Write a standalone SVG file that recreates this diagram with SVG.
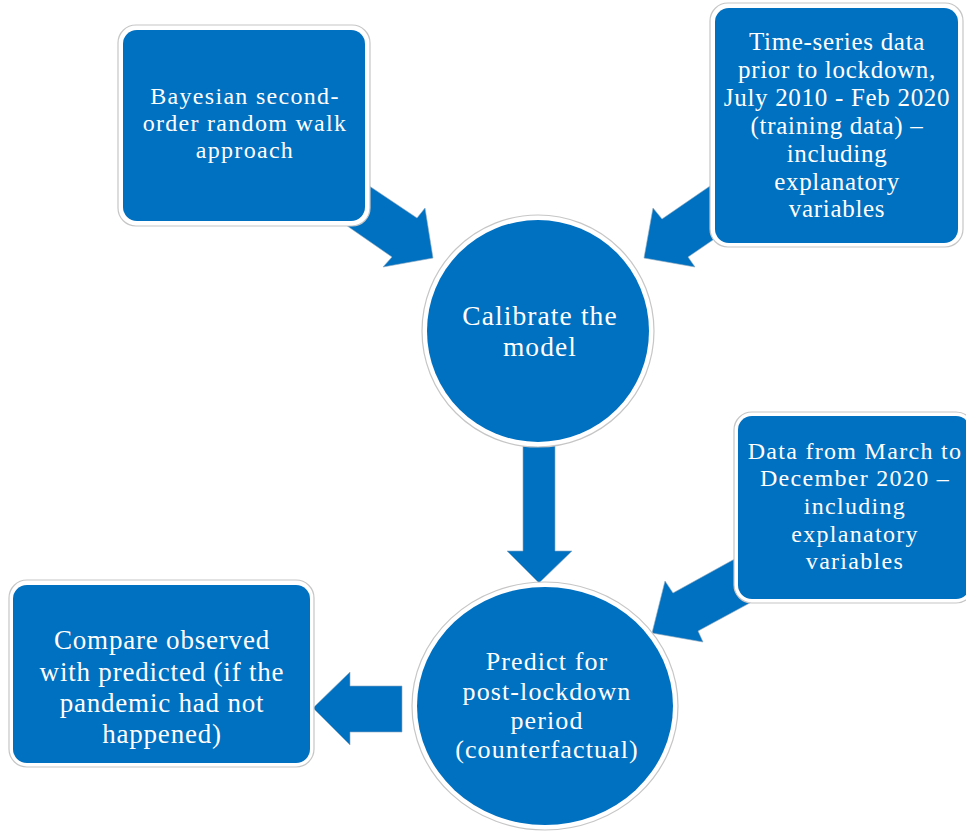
<svg xmlns="http://www.w3.org/2000/svg" width="966" height="832" viewBox="0 0 966 832">
  <style>
    .frame { fill: #ffffff; stroke: #c6c6c6; stroke-width: 1.2; }
    .fill { fill: #0070C0; }
    .arrow { fill: #0070C0; stroke: #8fa9c0; stroke-width: 0.6; stroke-linejoin: miter; }
    .lbl { font-family: "Liberation Serif", "DejaVu Serif", serif; fill: #ffffff; text-anchor: middle; }
    .bay { font-size: 24px; letter-spacing: 1.3px; }
    .ts { font-size: 25px; letter-spacing: 0.7px; }
    .cal { font-size: 27.5px; letter-spacing: 1.1px; }
    .dat { font-size: 24px; letter-spacing: 1.3px; }
    .pre { font-size: 26px; letter-spacing: 1.1px; }
    .cmp { font-size: 27px; letter-spacing: 0.8px; }
  </style>
  <rect width="966" height="832" fill="#ffffff"/>

  <g id="connectors">
    <polygon class="arrow" points="335,163 417,218 425,208 433,258 383,267 392,257 317,205"/>
    <polygon class="arrow" points="745,162 662,219 653,208 644,258 695,267 688,257 745,218"/>
    <polygon class="arrow" points="523,420 555,420 555,551 572,551 539,583 507,551 523,551"/>
    <polygon class="arrow" points="760,545 673,593 665,581 652,633 703,642 698,631 770,592"/>
    <polygon class="arrow" points="402,686 350,686 350,672 313,708 350,745 350,732 402,732"/>
  </g>

  <g id="node-bayesian">
    <rect class="frame" x="118" y="25" width="252" height="201" rx="18"/>
    <rect class="fill" x="123" y="30" width="242" height="191" rx="14"/>
    <text class="lbl bay" x="245" y="104">Bayesian second-</text>
    <text class="lbl bay" x="245" y="131">order random walk</text>
    <text class="lbl bay" x="245" y="158">approach</text>
  </g>

  <g id="node-timeseries">
    <rect class="frame" x="710" y="3" width="253" height="244" rx="18"/>
    <rect class="fill" x="715" y="8" width="243" height="235" rx="14"/>
    <text class="lbl ts" x="837" y="50">Time-series data</text>
    <text class="lbl ts" x="837" y="78">prior to lockdown,</text>
    <text class="lbl ts" x="837" y="106">July 2010 - Feb 2020</text>
    <text class="lbl ts" x="837" y="134">(training data) –</text>
    <text class="lbl ts" x="837" y="162">including</text>
    <text class="lbl ts" x="837" y="190">explanatory</text>
    <text class="lbl ts" x="837" y="217">variables</text>
  </g>

  <g id="node-calibrate">
    <circle class="frame" cx="538" cy="331" r="116"/>
    <circle class="fill" cx="538" cy="331" r="111"/>
    <text class="lbl cal" x="540" y="325">Calibrate the</text>
    <text class="lbl cal" x="540" y="356">model</text>
  </g>

  <g id="node-data">
    <rect class="frame" x="734" y="412" width="240" height="191" rx="18"/>
    <rect class="fill" x="738" y="416" width="232" height="183" rx="14"/>
    <text class="lbl dat" x="855" y="459">Data from March to</text>
    <text class="lbl dat" x="855" y="486">December 2020 –</text>
    <text class="lbl dat" x="855" y="514">including</text>
    <text class="lbl dat" x="855" y="542">explanatory</text>
    <text class="lbl dat" x="855" y="569">variables</text>
  </g>

  <g id="node-predict">
    <ellipse class="frame" cx="545" cy="706" rx="133" ry="124"/>
    <ellipse class="fill" cx="545" cy="706" rx="128" ry="119"/>
    <text class="lbl pre" x="547" y="670">Predict for</text>
    <text class="lbl pre" x="547" y="700">post-lockdown</text>
    <text class="lbl pre" x="547" y="729">period</text>
    <text class="lbl pre" x="547" y="758">(counterfactual)</text>
  </g>

  <g id="node-compare">
    <rect class="frame" x="9" y="580" width="305" height="187" rx="18"/>
    <rect class="fill" x="13" y="585" width="297" height="178" rx="14"/>
    <text class="lbl cmp" x="162" y="649">Compare observed</text>
    <text class="lbl cmp" x="162" y="681">with predicted (if the</text>
    <text class="lbl cmp" x="162" y="712">pandemic had not</text>
    <text class="lbl cmp" x="162" y="743">happened)</text>
  </g>
</svg>
